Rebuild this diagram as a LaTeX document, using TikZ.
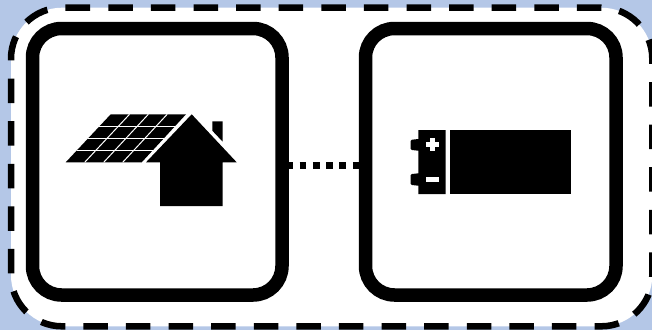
\documentclass[tikz,border=0pt]{standalone}
\usetikzlibrary{calc}
\definecolor{bgblue}{HTML}{B4C7E7}
\tikzset{
  devbox/.style={draw=black,fill=white,line width=13.5pt,rounded corners=29pt,minimum height=266.5pt,inner sep=0pt},
  icon/.style={fill=black,draw=none},
  gridline/.style={draw=white,line width=1pt}
}
\begin{document}
\begin{tikzpicture}[x=1pt,y=-1pt]
\useasboundingbox (0,0) rectangle (652,330);
\clip (0,0) rectangle (652,330);
\fill[bgblue] (0,0) rectangle (652,330);
% outer dashed frame
\fill[white,rounded corners=51pt] (11,7.7) rectangle (652.3,326.3);
\draw[line width=6.5pt,dash pattern=on 24.5pt off 18.1pt,rounded corners=51pt]
  (65.7,7.7) -- (652.3,7.7) -- (652.3,326.3) -- (11,326.3) -- (11,7.7) -- (65.7,7.7);
% boxes
\node[devbox,minimum width=249.5pt] (solar) at (157.25,161.75) {};
\node[devbox,minimum width=250.5pt] (battery) at (490.75,161.75) {};
% connector
\draw[line width=7pt,dash pattern=on 6.7pt off 6.6pt,dash phase=2.5pt]
  ([yshift=-3.25pt]solar.east) -- ([yshift=-3.25pt]battery.west);
% solar panel
\fill[icon] (110.7,114.3) -- (186,114.3) -- (141.7,162.3) -- (65.7,162.3) -- cycle;
\foreach \t in {0.25,0.5,0.75}{
  \draw[gridline] ($(110.7,114.3)!\t!(65.7,162.3)$) -- ($(186,114.3)!\t!(141.7,162.3)$);
  \draw[gridline] ($(110.7,114.3)!\t!(186,114.3)$) -- ($(65.7,162.3)!\t!(141.7,162.3)$);
}
% house
\fill[icon] (212.3,130.7) -- (212.3,121.3) -- (222.7,121.3) -- (222.7,141.7) -- cycle;
\fill[icon] (191.7,114.3) -- (236.7,162.3) -- (222.7,162.3) -- (222.7,206) -- (160,206) -- (160,162.3) -- (146,162.3) -- cycle;
% battery
\fill[icon] (450,130) rectangle (571,194);
\fill[icon] (418.3,130) -- (445.7,130) -- (445.7,194) -- (418.3,194) -- (418.3,185.7) -- (412,185) -- (410.7,183.9) -- (410.7,175.1) -- (412,174) -- (418.3,173.3) -- (418.3,150.7) -- (412,150) -- (410.7,148.9) -- (410.7,140.8) -- (412,139.7) -- (418.3,139) -- cycle;
\fill[white] (426,142.2) rectangle (438.6,146.6);
\fill[white] (430.1,138) rectangle (434.5,151);
\fill[white] (426,176.7) rectangle (438.7,182);
\end{tikzpicture}
\end{document}
